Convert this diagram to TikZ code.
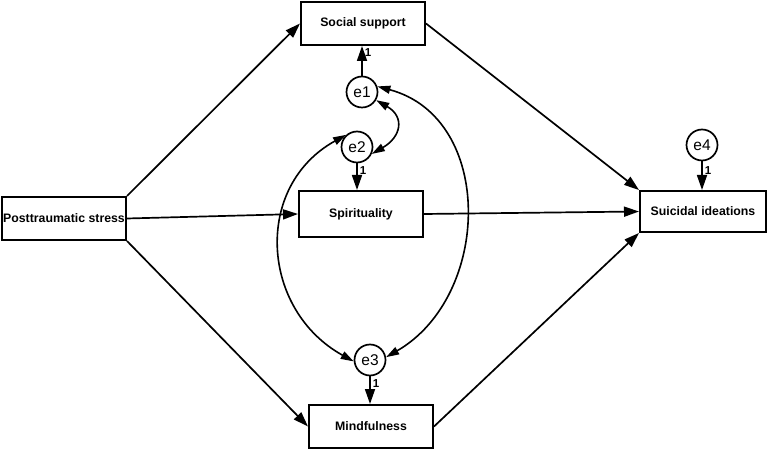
\documentclass[tikz,border=0pt]{standalone}
\usepackage{fontspec}
\setmainfont{Liberation Sans}
\usetikzlibrary{arrows.meta}

\begin{document}
\begin{tikzpicture}[
  x=1pt, y=1pt,
  varbox/.style={rectangle, draw, line width=2pt, minimum width=124pt,
    minimum height=43pt, inner sep=1pt, align=center,
    font=\fontsize{12.3}{14}\selectfont\bfseries},
  errcirc/.style={circle, draw, line width=1.7pt, minimum size=31pt,
    inner sep=0pt, font=\fontsize{15.5}{17}\selectfont},
  arr/.style={-{Triangle[length=15pt, width=10pt]}, line width=1.7pt},
  cov/.style={{Triangle[length=13pt, width=8pt]}-{Triangle[length=13pt, width=8pt]},
    line width=1.6pt},
  fixlbl/.style={font=\fontsize{11.5}{12}\selectfont\bfseries, inner sep=1pt,
    anchor=west, xshift=1pt},
]
\useasboundingbox (0,0) rectangle (767,452);

% ============================================================
% OBSERVED VARIABLES
% ============================================================
\node[varbox] (ptsd) at (64, 233.5) {Posttraumatic stress};
\node[varbox] (social) at (363, 428.5) {Social support};
\node[varbox, minimum height=46pt] (spirit) at (361, 238) {Spirituality};
\node[varbox] (mind) at (371, 25.5) {Mindfulness};
\node[varbox, minimum width=126pt, minimum height=41pt] (suicid) at (703, 240.5) {Suicidal ideations};

% ============================================================
% ERROR TERMS
% ============================================================
\node[errcirc] (e1) at (362, 360) {e1};
\node[errcirc] (e2) at (357, 305) {e2};
\node[errcirc] (e3) at (370, 92) {e3};
\node[errcirc] (e4) at (702, 307) {e4};

% ============================================================
% PATHS
% ============================================================
\draw[arr] (ptsd.north east) -- (social.west);
\draw[arr] (ptsd.east) -- (spirit.west);
\draw[arr] (ptsd.south east) -- (mind.west);

\draw[arr] (social.east) -- (suicid.north west);
\draw[arr] (spirit.east) -- (suicid.west);
\draw[arr] (mind.east) -- (suicid.south west);

% Error loadings
\draw[arr] (e1) -- node[fixlbl, pos=0.78] {1} (e1 |- social.south);
\draw[arr] (e2) -- node[fixlbl, pos=0.26] {1} (e2 |- spirit.north);
\draw[arr] (e3) -- node[fixlbl, pos=0.27] {1} (e3 |- mind.north);
\draw[arr] (e4) -- node[fixlbl, pos=0.33] {1} (e4 |- suicid.north);

% ============================================================
% COVARIANCES
% ============================================================
\draw[cov] (e1.-30) to[out=-30, in=30, looseness=1.6] (e2.-25);
\draw[cov] (e1.20) to[out=-15, in=30, looseness=1.15] (e3.10);
\draw[cov] (e2.132) to[out=209, in=151, looseness=1.2] (e3.185);

\end{tikzpicture}
\end{document}
